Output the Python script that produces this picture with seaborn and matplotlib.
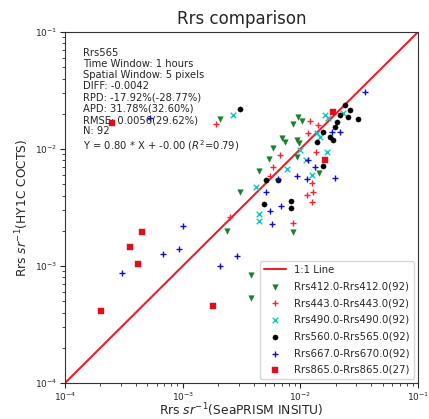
import numpy as np
import pandas as pd
import matplotlib
matplotlib.use("Agg")
import matplotlib.pyplot as plt
import seaborn as sns

# In-situ (x) vs satellite (y) remote-sensing reflectance, per band pair
x412 = [2.07e-3, 2.37e-3, 3.07e-3, 3.8e-3, 3.8e-3, 4.43e-3, 5.41e-3, 5.82e-3, 6.93e-3,
        9.31e-3, 9.8e-3, 8.71e-3, 9.6e-3, 9.31e-3, 8.61e-3, 1.45e-2, 7.4e-3, 1.03e-2]
y412 = [1.79e-2, 2.0e-3, 4.33e-3, 8.38e-4, 5.33e-4, 6.49e-3, 8.17e-3, 1.03e-2, 1.25e-2,
        1.19e-2, 1.12e-2, 1.64e-2, 1.87e-2, 8.6e-3, 1.96e-3, 6.27e-3, 1.14e-2, 1.73e-2]

x443 = [1.92e-3, 2.52e-3, 5.89e-3, 5.52e-3, 6.71e-3, 8.61e-3, 1.13e-2, 1.25e-2, 1.29e-2,
        1.25e-2, 1.21e-2, 1.42e-2, 1.17e-2, 1.36e-2]
y443 = [1.63e-2, 2.62e-3, 7.06e-3, 5.88e-3, 8.89e-3, 2.34e-3, 4.05e-3, 5.09e-3, 4.32e-3,
        3.55e-3, 1.75e-2, 1.60e-2, 1.36e-2, 9.48e-3]

x490 = [2.66e-3, 4.16e-3, 4.41e-3, 4.41e-3, 7.69e-3, 1.26e-2, 1.47e-2, 1.62e-2, 1.71e-2,
        1.38e-2, 1.68e-2, 2.30e-2, 9.93e-3, 1.12e-2]
y490 = [1.95e-2, 4.69e-3, 2.78e-3, 2.43e-3, 6.75e-3, 6.0e-3, 1.27e-2, 1.95e-2, 1.84e-2,
        1.37e-2, 9.42e-3, 2.03e-2, 9.8e-3, 8.05e-3]

x565 = [3.07e-3, 5.1e-3, 6.46e-3, 4.91e-3, 8.38e-3, 8.38e-3, 1.56e-2, 1.89e-2, 1.97e-2,
        2.39e-2, 2.64e-2, 3.08e-2, 2.17e-2, 2.54e-2, 1.56e-2, 2.05e-2, 1.38e-2, 1.79e-2]
y565 = [2.2e-2, 5.48e-3, 5.43e-3, 3.39e-3, 3.63e-3, 3.13e-3, 7.16e-3, 1.19e-2, 1.54e-2,
        2.38e-2, 2.15e-2, 1.80e-2, 1.95e-2, 1.88e-2, 1.40e-2, 1.70e-2, 1.15e-2, 1.27e-2]

x670 = [1.01e-3, 6.84e-4, 9.35e-4, 3.07e-4, 2.07e-3, 2.91e-3, 5.74e-3, 5.52e-3, 6.81e-3,
        5.1e-3, 6.49e-3, 9.31e-3, 1.13e-2, 1.33e-2, 1.17e-2, 1.97e-2, 1.85e-2, 2.17e-2,
        3.54e-2, 5.27e-4]
y670 = [2.2e-3, 1.27e-3, 1.39e-3, 8.67e-4, 1.01e-3, 1.22e-3, 2.29e-3, 2.97e-3, 3.27e-3,
        4.32e-3, 5.51e-3, 5.85e-3, 5.51e-3, 7.06e-3, 8.05e-3, 5.62e-3, 1.41e-2, 1.41e-2,
        3.09e-2, 1.83e-2]

x865 = [4.49e-4, 3.56e-4, 4.2e-4, 2.01e-4, 1.82e-3, 2.51e-4, 1.62e-2, 1.89e-2]
y865 = [1.94e-3, 1.46e-3, 1.05e-3, 4.15e-4, 4.55e-4, 1.66e-2, 8.05e-3, 2.07e-2]

labels = ["Rrs412.0-Rrs412.0(92)", "Rrs443.0-Rrs443.0(92)", "Rrs490.0-Rrs490.0(92)",
          "Rrs560.0-Rrs565.0(92)", "Rrs667.0-Rrs670.0(92)", "Rrs865.0-Rrs865.0(27)"]
xs = [x412, x443, x490, x565, x670, x865]
ys = [y412, y443, y490, y565, y670, y865]
colors = ["#1a7f2e", "#ff2030", "#10c8c0", "black", "#1010c0", "#e0101a"]
markers = ["v", "+", "x", "o", "+", "s"]
sizes = [16, 18, 16, 14, 16, 14]

stats_text = ("Rrs565\n"
              "Time Window: 1 hours\n"
              "Spatial Window: 5 pixels\n"
              "DIFF: -0.0042\n"
              "RPD: -17.92%(-28.77%)\n"
              "APD: 31.78%(32.60%)\n"
              "RMSE: 0.0056(29.62%)\n"
              "N: 92\n"
              "Y = 0.80 * X + -0.00 ($R^2$=0.79)")

sns.set_style("ticks")
plt.rcParams["font.family"] = ["DejaVu Sans"]

fig = plt.figure(figsize=(4.29, 4.19), dpi=100)
ax = fig.add_axes([0.1515, 0.0859, 0.8229, 0.8377])

lims = [1e-4, 1e-1]
ax.plot(lims, lims, color="#e8202a", lw=1.5, label="1:1 Line", zorder=1)

for x, y, c, m, s, lab in zip(xs, ys, colors, markers, sizes, labels):
    df = pd.DataFrame({"x": x, "y": y})
    if m in ("+", "x"):
        sns.scatterplot(data=df, x="x", y="y", ax=ax, color=c, marker=m, s=s,
                        linewidth=1.0, label=lab, zorder=3)
    else:
        sns.scatterplot(data=df, x="x", y="y", ax=ax, color=c, marker=m, s=s,
                        edgecolor=c, linewidth=0.3, label=lab, zorder=3)

ax.set_xscale("log")
ax.set_yscale("log")
ax.set_xlim(lims)
ax.set_ylim(lims)
for sp in ax.spines.values():
    sp.set_visible(True)
    sp.set_color("#333333")
ax.tick_params(labelsize=6.5, pad=2)

ax.set_title("Rrs comparison", fontsize=12, pad=6)
ax.set_xlabel("Rrs $sr^{-1}$(SeaPRISM INSITU)", fontsize=8.8, labelpad=-1)
ax.set_ylabel("Rrs $sr^{-1}$(HY1C COCTS)", fontsize=8.8, labelpad=3)

ax.text(0.05, 0.955, stats_text, transform=ax.transAxes, fontsize=7.2,
        va="top", ha="left", linespacing=1.15)

ax.legend(loc="lower right", fontsize=7.3, frameon=True, handlelength=2.2,
          borderaxespad=0.4, labelspacing=0.66, markerscale=1.0)

fig.savefig("out.png", dpi=100)
